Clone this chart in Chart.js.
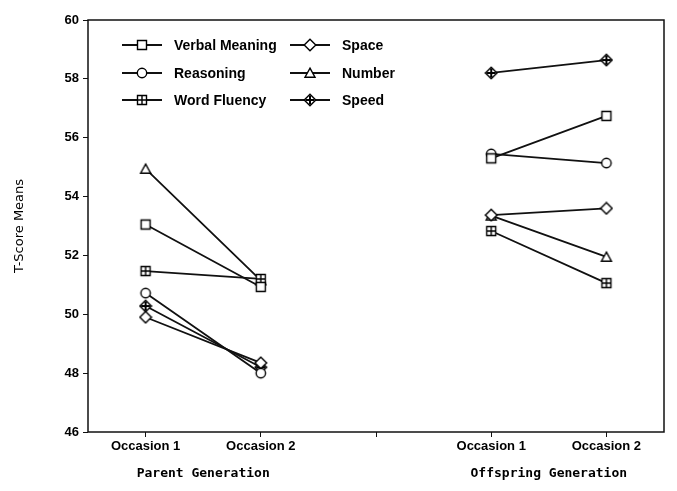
<!DOCTYPE html>
<html>
<head>
<meta charset="utf-8">
<script src="https://cdn.jsdelivr.net/npm/chart.js@4/dist/chart.umd.min.js"></script>
<style>
  html, body { margin: 0; background: #fff; }
  #wrap { width: 677px; height: 491px; }
</style>
</head>
<body>
<div id="wrap"><canvas id="chart"></canvas></div>
<script>
// categories along x (middle slot is the gap between the two generations)
const occasions = ["Occasion 1", "Occasion 2", "", "Occasion 1", "Occasion 2"];
const generations = ["Parent Generation", "Offspring Generation"];
const yTicks = [46, 48, 50, 52, 54, 56, 58, 60];

// T-score means per ability
const verbalMeaning = [53.05, 50.93, null, 55.30, 56.74];
const reasoning     = [50.72, 48.00, null, 55.45, 55.14];
const wordFluency   = [51.47, 51.20, null, 52.83, 51.06];
const space         = [49.90, 48.35, null, 53.37, 53.60];
const number        = [54.94, 51.15, null, 53.35, 51.95];
const speed         = [50.28, 48.20, null, 58.20, 58.64];

const seriesNames = ["Verbal Meaning", "Reasoning", "Word Fluency", "Space", "Number", "Speed"];
const seriesData = [verbalMeaning, reasoning, wordFluency, space, number, speed];
const seriesMarkers = ["square", "circle", "squarePlus", "diamond", "triangle", "diamondPlus"];

// small canvases used as point styles
function makeMarker(kind) {
  const c = document.createElement("canvas");
  c.width = 14; c.height = 14;
  const g = c.getContext("2d");
  const m = 7;
  g.strokeStyle = "#000";
  g.fillStyle = "#fff";
  g.lineWidth = 1.4;
  g.beginPath();
  if (kind === "square" || kind === "squarePlus") {
    g.rect(2.5, 2.5, 9, 9);
  } else if (kind === "circle") {
    g.arc(m, m, 4.7, 0, Math.PI * 2);
  } else if (kind === "diamond" || kind === "diamondPlus") {
    g.moveTo(m, 1.2); g.lineTo(12.8, m); g.lineTo(m, 12.8); g.lineTo(1.2, m); g.closePath();
  } else if (kind === "triangle") {
    g.moveTo(m, 2.2); g.lineTo(12, 11.2); g.lineTo(2, 11.2); g.closePath();
  }
  g.fill();
  g.stroke();
  if (kind === "squarePlus" || kind === "diamondPlus") {
    g.lineWidth = kind === "diamondPlus" ? 2 : 1.4;
    g.beginPath();
    g.moveTo(m, 2.5); g.lineTo(m, 11.5);
    g.moveTo(2.5, m); g.lineTo(11.5, m);
    g.stroke();
  }
  return c;
}

const markerImgs = seriesMarkers.map(makeMarker);

const datasets = seriesNames.map((name, i) => ({
  label: name,
  data: seriesData[i],
  borderColor: "#111",
  borderWidth: 1.8,
  pointStyle: markerImgs[i],
  pointRadius: 5,
  spanGaps: false,
  tension: 0
}));

const tickFont = { family: "'Liberation Sans', Arial, sans-serif", size: 13, weight: "bold" };

// frame, legend box and generation labels
const extras = {
  id: "extras",
  afterDraw(chart) {
    const { ctx, chartArea: a, scales } = chart;
    ctx.save();
    ctx.strokeStyle = "#111";
    ctx.lineWidth = 1.5;
    ctx.strokeRect(a.left, a.top, a.right - a.left, a.bottom - a.top);

    // legend, two columns of three
    const cols = [122, 290];
    const rows = [45, 73, 100];
    ctx.font = "bold 14px 'Liberation Sans', Arial, sans-serif";
    ctx.textBaseline = "middle";
    ctx.textAlign = "left";
    ctx.fillStyle = "#000";
    seriesNames.forEach((name, i) => {
      const x = cols[Math.floor(i / 3)];
      const y = rows[i % 3];
      ctx.lineWidth = 2;
      ctx.beginPath();
      ctx.moveTo(x, y); ctx.lineTo(x + 40, y);
      ctx.stroke();
      ctx.drawImage(markerImgs[i], x + 20 - 7, y - 7);
      ctx.fillText(name, x + 52, y + 1);
    });

    // generation labels under each pair of occasions
    const xs = scales.x;
    ctx.font = "bold 13px 'DejaVu Sans Mono', monospace";
    ctx.textAlign = "center";
    const pairs = [[0, 1], [3, 4]];
    pairs.forEach((p, i) => {
      const cx = (xs.getPixelForValue(p[0]) + xs.getPixelForValue(p[1])) / 2;
      ctx.fillText(generations[i], cx, 474);
    });
    ctx.restore();
  }
};

new Chart(document.getElementById("chart"), {
  type: "line",
  data: { labels: occasions, datasets },
  options: {
    responsive: true,
    maintainAspectRatio: false,
    animation: false,
    layout: { padding: { left: 0, top: 20, right: 13, bottom: 0 } },
    plugins: {
      legend: { display: false },
      tooltip: { enabled: false }
    },
    scales: {
      x: {
        offset: true,
        grid: { offset: false, drawOnChartArea: false, drawTicks: true, tickLength: 5, color: "#111", lineWidth: 1 },
        border: { display: false },
        ticks: { autoSkip: false, maxRotation: 0, color: "#000", font: tickFont, padding: 2 },
        afterFit(scale) { scale.height = 59; }
      },
      y: {
        min: 46,
        max: 60,
        afterBuildTicks(scale) { scale.ticks = yTicks.map(v => ({ value: v })); },
        grid: { drawOnChartArea: false, drawTicks: true, tickLength: 5, color: "#111", lineWidth: 1 },
        border: { display: false },
        ticks: { color: "#000", font: tickFont, padding: 4 },
        title: {
          display: true,
          text: "T-Score Means",
          color: "#000",
          font: { family: "'DejaVu Sans', sans-serif", size: 13 },
          padding: { top: 12, bottom: 0 }
        },
        afterFit(scale) { scale.width = 88; }
      }
    }
  },
  plugins: [extras]
});
</script>
</body>
</html>
